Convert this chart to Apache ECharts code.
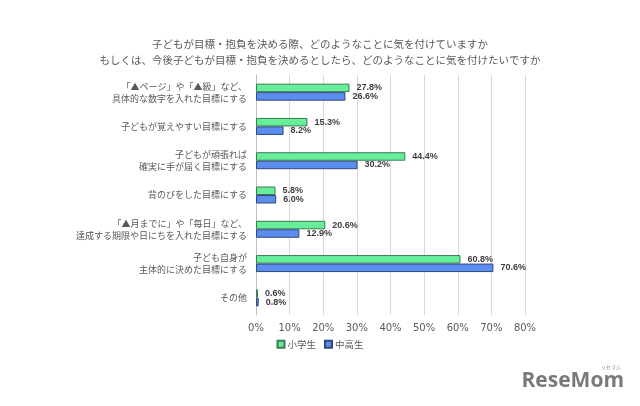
<!DOCTYPE html>
<html><head><meta charset="utf-8">
<script src="https://cdn.jsdelivr.net/npm/echarts@6/dist/echarts.min.js"></script>
<style>html,body{margin:0;padding:0;background:#fff}#c{width:640px;height:406px}</style>
</head><body><div id="c"></div>
<script>
const categories = [
  '「▲ページ」や「▲級」など、\n具体的な数字を入れた目標にする',
  '子どもが覚えやすい目標にする',
  '子どもが頑張れば\n確実に手が届く目標にする',
  '背のびをした目標にする',
  '「▲月までに」や「毎日」など、\n達成する期限や日にちを入れた目標にする',
  '子ども自身が\n主体的に決めた目標にする',
  'その他'
];
const elementary = [27.8, 15.3, 44.4, 5.8, 20.6, 60.8, 0.6];
const secondary = [26.6, 8.2, 30.2, 6.0, 12.9, 70.6, 0.8];
const seriesNames = ['小学生', '中高生'];
const titleLines = ['子どもが目標・抱負を決める際、どのようなことに気を付けていますか', 'もしくは、今後子どもが目標・抱負を決めるとしたら、どのようなことに気を付けたいですか'];

const chart = echarts.init(document.getElementById('c'), null, {renderer: 'canvas'});
const font = '"Noto Sans CJK JP", sans-serif';
const numFont = '"Liberation Sans", Arial, sans-serif';
const lbl = {show: true, position: 'right', distance: 7, formatter: p => p.value.toFixed(1) + '%', color: '#404040', fontWeight: 'bold', fontSize: 9, fontFamily: numFont};
chart.setOption({
  animation: false,
  title: {text: titleLines.join('\n'), left: 'center', top: 31, textStyle: {color: '#595959', fontSize: 10.5, fontWeight: 'normal', fontFamily: font, lineHeight: 16}},
  legend: {bottom: 52, left: 'center', icon: 'rect', itemWidth: 7, itemHeight: 7, itemGap: 8, textStyle: {color: '#595959', fontSize: 9.5, fontFamily: font, padding: [0, 0, 0, -2]}, data: seriesNames},
  grid: {left: 256, right: 115, top: 75, bottom: 91, containLabel: false},
  xAxis: {type: 'value', min: 0, max: 80, interval: 10, axisLabel: {formatter: '{value}%', color: '#595959', fontSize: 10, fontFamily: 'Verdana, "DejaVu Sans", sans-serif', margin: 8},
    splitLine: {lineStyle: {color: '#d9d9d9', width: 1}}, axisLine: {show: false}, axisTick: {show: false}},
  yAxis: {type: 'category', inverse: true, data: categories, axisTick: {show: false}, axisLine: {show: true, lineStyle: {color: '#bfbfbf'}},
    axisLabel: {color: '#595959', fontSize: 9, fontFamily: font, lineHeight: 12, margin: 9, align: 'right'}},
  series: [
    {name: seriesNames[0], type: 'bar', data: elementary, barWidth: 8.5, barGap: '0%', itemStyle: {color: '#66ee99', borderColor: '#3d7a55', borderWidth: 1}, label: lbl},
    {name: seriesNames[1], type: 'bar', data: secondary, barWidth: 8.5, barGap: '0%', itemStyle: {color: '#5b8def', borderColor: '#2f4a7a', borderWidth: 1}, label: lbl}
  ],
  graphic: [
    {type: 'text', right: 16, bottom: 14, style: {text: 'ReseMom', fill: '#7a7a7a', font: 'bold 21px "Open Sans", sans-serif'}},
    {type: 'text', right: 19, bottom: 36, style: {text: 'リセマム', fill: '#888', font: '5px "Noto Sans CJK JP", sans-serif'}}
  ]
});
</script></body></html>
